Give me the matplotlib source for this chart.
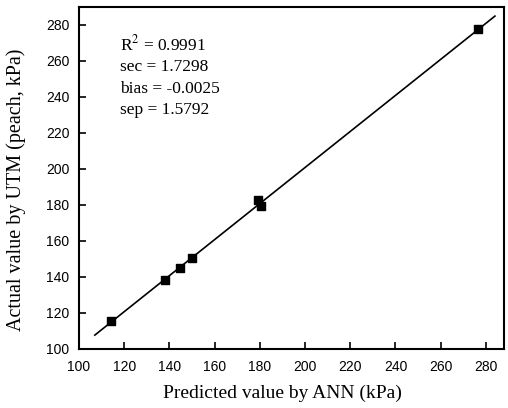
import numpy as np
import matplotlib
matplotlib.use("Agg")
import matplotlib.pyplot as plt

plt.rcParams["mathtext.fontset"] = "stix"

# data
predicted = [114.2, 138.1, 144.8, 150.1, 179.3, 180.4, 276.7]
actual = [115.7, 138.3, 145.0, 150.4, 183.0, 179.2, 277.6]
stats_text = ["R$^2$ = 0.9991", "sec = 1.7298", "bias = -0.0025", "sep = 1.5792"]
line_x = [107, 284]
ticks = [100, 120, 140, 160, 180, 200, 220, 240, 260, 280]

fig = plt.figure(figsize=(5.08, 4.08), dpi=100)
ax = fig.add_axes([79/508, 1 - 349/408, (504 - 79)/508, (349 - 7)/408])

# regression line through the points
slope, intercept = np.polyfit(predicted, actual, 1)
lx = np.array(line_x)
ax.plot(lx, slope*lx + intercept, color="black", lw=1.2)
ax.scatter(predicted, actual, marker="s", s=28, color="black", zorder=3)

ax.set_xlim(100, 288)
ax.set_ylim(100, 290)
ax.set_xticks(ticks)
ax.set_yticks(ticks)
ax.tick_params(direction="in", length=5, width=1.2, labelsize=10, top=False, right=False)
ax.tick_params(axis="x", pad=8)
ax.tick_params(axis="y", pad=7)
for lab in ax.get_xticklabels() + ax.get_yticklabels():
    lab.set_family("Liberation Sans")
for s in ax.spines.values():
    s.set_linewidth(1.5)

ax.set_xlabel("Predicted value by ANN (kPa)", family="Liberation Serif", fontsize=14)
ax.set_ylabel("Actual value by UTM (peach, kPa)", family="Liberation Serif", fontsize=14.5)
ax.xaxis.set_label_coords(0.478, -0.105)
ax.yaxis.set_label_coords(-0.125, 0.465)

ax.text(118, 275, "\n".join(stats_text), family="Liberation Serif", fontsize=12.5,
        va="top", ha="left", linespacing=1.45)

fig.savefig("out.png", dpi=100)
